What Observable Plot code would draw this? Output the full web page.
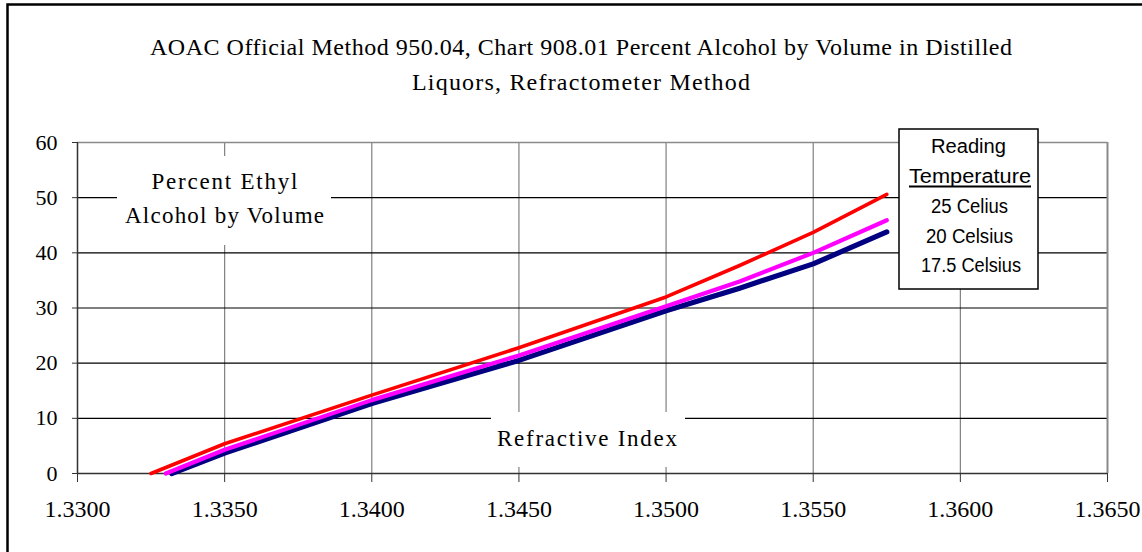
<!DOCTYPE html>
<html><head><meta charset="utf-8">
<script src="https://cdn.jsdelivr.net/npm/d3@7"></script>
<script src="https://cdn.jsdelivr.net/npm/@observablehq/plot@0.6"></script>
<style>
body{margin:0;background:#fff;}
#chart{position:relative;width:1142px;height:552px;overflow:hidden;}
</style>
</head><body><div id="chart"></div>
<script>
// ---- data ----
const titleLines = ["AOAC Official Method 950.04, Chart 908.01 Percent Alcohol by Volume in Distilled", "Liquors, Refractometer Method"];
const yLabelLines = ["Percent Ethyl", "Alcohol by Volume"];
const xLabel = "Refractive Index";
const legendTitle = ["Reading", "Temperature"];
const seriesNames = ["25 Celius", "20 Celsius", "17.5 Celsius"];
const seriesColors = ["#FF0000", "#FF00FF", "#000080"];
const xTicks = [1.330, 1.335, 1.340, 1.345, 1.350, 1.355, 1.360, 1.365];
const yTicks = [0, 10, 20, 30, 40, 50, 60];

const ri25  = [1.3325, 1.3350, 1.3400, 1.3450, 1.3500, 1.3525, 1.3550, 1.3575];
const pct25 = [0, 5.4, 14.2, 22.8, 32.0, 37.7, 43.7, 50.6];
const ri20  = [1.3330, 1.3350, 1.3400, 1.3450, 1.3500, 1.3525, 1.3550, 1.3575];
const pct20 = [0, 4.3, 13.3, 21.4, 30.3, 34.8, 40.0, 45.9];
const ri175  = [1.3332, 1.3350, 1.3400, 1.3450, 1.3500, 1.3525, 1.3550, 1.3575];
const pct175 = [0, 3.7, 12.7, 20.5, 29.5, 33.6, 38.0, 43.8];

const seriesRI = [ri25, ri20, ri175];
const seriesPct = [pct25, pct20, pct175];
const widths = [3.6, 4.2, 5.2];

const tables = seriesRI.map((ris, i) => ris.map((r, j) => ({ri: r, pct: seriesPct[i][j], series: seriesNames[i]})));

const serif = "'Liberation Serif','Times New Roman',serif";
const sans = "'Liberation Sans',Arial,sans-serif";
const fmt = d3.format(".4f");

const lineMarks = [2, 1, 0].map(i => Plot.line(tables[i], {x: "ri", y: "pct", stroke: seriesColors[i], strokeWidth: widths[i], strokeLinejoin: "round", strokeLinecap: "round"}));

const chart = Plot.plot({
  width: 1142, height: 552,
  marginLeft: 77, marginRight: 35, marginTop: 142, marginBottom: 79,
  style: {fontFamily: serif, fontSize: "22px", color: "#000", background: "#fff"},
  x: {domain: [1.33, 1.365]},
  y: {domain: [0, 60]},
  marks: [
    Plot.gridX(xTicks.slice(1, -1), {stroke: "#808080", strokeOpacity: 1, strokeWidth: 1.2}),
    Plot.gridY(yTicks.slice(1, -1), {stroke: "#000", strokeOpacity: 1, strokeWidth: 1.2}),
    Plot.ruleY([60], {stroke: "#8a8a8a", strokeWidth: 1.5}),
    Plot.ruleX([1.365], {stroke: "#8a8a8a", strokeWidth: 2}),
    Plot.axisX(xTicks, {tickSize: 9, tickPadding: 17, tickFormat: fmt, label: null, fontSize: 24, stroke: "#333"}),
    Plot.axisY(yTicks, {tickSize: 5, tickPadding: 15, label: null, fontSize: 22, stroke: "#333"}),
    Plot.ruleX([1.33], {stroke: "#333", strokeWidth: 1.5}),
    Plot.ruleY([0], {stroke: "#333", strokeWidth: 1.5}),
    ...lineMarks
  ]
});
document.getElementById("chart").appendChild(chart);

const svg = d3.select(chart);

// title
const tl = svg.append("g").attr("font-family", serif).attr("font-size", 24).attr("fill", "#000").attr("text-anchor", "middle");
[[55, 862], [90, 338]].forEach(([y, len], i) => {
  tl.append("text").attr("x", 581).attr("y", y).attr("textLength", len).attr("lengthAdjust", "spacing").text(titleLines[i]);
});

// y label box
svg.append("rect").attr("x", 117).attr("y", 156).attr("width", 214).attr("height", 89).attr("fill", "#fff");
const yl = svg.append("g").attr("font-family", serif).attr("font-size", 23).attr("fill", "#000").attr("text-anchor", "middle");
[[189, 146], [223, 199]].forEach(([y, len], i) => {
  yl.append("text").attr("x", 224.5).attr("y", y).attr("textLength", len).attr("lengthAdjust", "spacing").text(yLabelLines[i]);
});

// x label box
svg.append("rect").attr("x", 491).attr("y", 412).attr("width", 194).attr("height", 55).attr("fill", "#fff");
svg.append("text").attr("x", 587).attr("y", 446).attr("font-family", serif).attr("font-size", 23).attr("text-anchor", "middle")
  .attr("textLength", 180).attr("lengthAdjust", "spacing").text(xLabel);

// legend
svg.append("rect").attr("x", 899).attr("y", 129).attr("width", 139).attr("height", 160).attr("fill", "#fff").attr("stroke", "#000").attr("stroke-width", 1.5);
const lg = svg.append("g").attr("font-family", sans).attr("font-size", 20).attr("fill", "#000").attr("text-anchor", "middle");
lg.append("text").attr("x", 968.5).attr("y", 153).attr("textLength", 75).attr("lengthAdjust", "spacingAndGlyphs").text(legendTitle[0]);
lg.append("text").attr("x", 970).attr("y", 183).attr("textLength", 122).attr("lengthAdjust", "spacingAndGlyphs").text(legendTitle[1]);
svg.append("line").attr("x1", 909).attr("x2", 1031).attr("y1", 186.5).attr("y2", 186.5).attr("stroke", "#000").attr("stroke-width", 2);
[[213, 77, 969.5], [243, 87, 969.5], [272, 100, 971]].forEach(([y, len, x], i) => {
  lg.append("text").attr("x", x).attr("y", y).attr("textLength", len).attr("lengthAdjust", "spacingAndGlyphs").text(seriesNames[i]);
});

// outer border
svg.append("rect").attr("x", 7.5).attr("y", 4.5).attr("width", 1300).attr("height", 700).attr("fill", "none").attr("stroke", "#000").attr("stroke-width", 2.5);
</script>
</body></html>
